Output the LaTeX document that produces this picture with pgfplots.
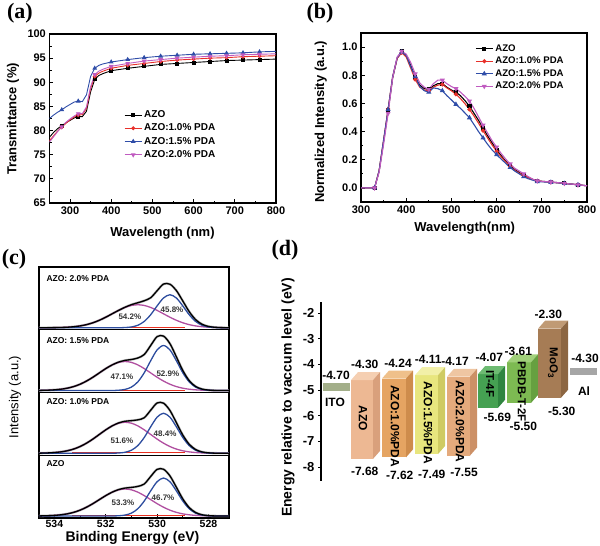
\documentclass[border=0pt]{standalone}
\usepackage{fontspec}
\setmainfont{Liberation Sans}
\newfontfamily\serifbf{Liberation Serif}
\usepackage{pgfplots}
\usepackage{pgfplotstable}
\pgfplotsset{compat=1.18}

\definecolor{cred}{HTML}{E8302A}
\definecolor{cblue}{HTML}{2F4DA8}
\definecolor{cmag}{HTML}{C05BC0}
\definecolor{xblue}{HTML}{2C4C9E}
\definecolor{xmag}{HTML}{B04FA0}
\definecolor{xred}{HTML}{E83020}
\definecolor{azoF}{HTML}{EDB893}\definecolor{azoT}{HTML}{F5CFB2}\definecolor{azoS}{HTML}{D9A07C}
\definecolor{aaF}{HTML}{E5A462}\definecolor{aaT}{HTML}{EFC08A}\definecolor{aaS}{HTML}{CE8C4C}
\definecolor{abF}{HTML}{E8E67E}\definecolor{abT}{HTML}{F2F0A8}\definecolor{abS}{HTML}{CFCB62}
\definecolor{acF}{HTML}{E4AA7C}\definecolor{acT}{HTML}{EFC6A2}\definecolor{acS}{HTML}{CC9066}
\definecolor{itF}{HTML}{45A152}\definecolor{itT}{HTML}{6DBB72}\definecolor{itS}{HTML}{2F8540}
\definecolor{pbF}{HTML}{7DBA52}\definecolor{pbT}{HTML}{A0D07A}\definecolor{pbS}{HTML}{66A040}
\definecolor{moF}{HTML}{A67C55}\definecolor{moT}{HTML}{C09A74}\definecolor{moS}{HTML}{8C6642}
\definecolor{itoC}{HTML}{A3AF8A}
\definecolor{alC}{HTML}{A6A6A6}

% (a) transmittance
\pgfplotstableread{
x k r b m
250 78.6 77.9 82.5 77.6
260 79.6 78.9 83.2 78.7
270 80.4 79.9 83.8 79.8
280 81.0 80.7 84.3 80.8
290 81.6 81.5 84.9 81.7
300 82.1 82.2 85.4 82.4
310 82.6 82.8 85.9 83.0
320 82.9 83.2 86.1 83.5
330 82.9 83.3 86.0 83.5
340 84.0 84.6 87.4 84.9
350 88.0 88.7 91.2 89.1
360 90.6 91.2 92.9 91.6
370 91.4 91.9 93.5 92.3
380 91.8 92.3 93.8 92.7
390 92.1 92.6 94.0 93.0
400 92.4 92.9 94.2 93.3
440 92.9 93.5 94.7 93.9
480 93.3 93.9 95.1 94.4
520 93.7 94.3 95.4 94.7
560 93.9 94.6 95.6 95.0
600 94.1 94.8 95.8 95.2
640 94.3 95.0 95.9 95.4
680 94.5 95.1 96.0 95.5
720 94.6 95.3 96.1 95.7
760 94.7 95.4 96.3 95.8
800 94.8 95.5 96.4 95.9
}\tabA

% (b) PL
\pgfplotstableread{
x k r b m
300 0 0 0 0
310 0 0 0 0
320 0 0 0 0
330 0 0 0 0
340 0.12 0.12 0.12 0.11
350 0.33 0.34 0.34 0.31
360 0.55 0.56 0.557 0.53
370 0.78 0.79 0.79 0.78
380 0.92 0.92 0.925 0.93
390 0.97 0.96 0.965 0.97
400 0.94 0.93 0.94 0.95
410 0.87 0.85 0.86 0.89
420 0.785 0.77 0.79 0.81
430 0.73 0.715 0.72 0.745
440 0.705 0.695 0.69 0.715
450 0.70 0.69 0.68 0.70
460 0.725 0.715 0.71 0.74
470 0.74 0.73 0.705 0.765
480 0.74 0.735 0.69 0.765
490 0.715 0.71 0.655 0.74
500 0.695 0.69 0.625 0.72
510 0.68 0.665 0.593 0.705
520 0.655 0.635 0.565 0.68
530 0.62 0.598 0.532 0.65
540 0.58 0.557 0.498 0.617
550 0.53 0.51 0.45 0.565
560 0.48 0.46 0.40 0.505
570 0.425 0.407 0.355 0.445
580 0.37 0.355 0.31 0.39
590 0.32 0.305 0.27 0.335
600 0.27 0.26 0.236 0.29
610 0.23 0.22 0.205 0.245
620 0.19 0.185 0.175 0.205
630 0.16 0.152 0.145 0.17
640 0.13 0.125 0.12 0.14
650 0.11 0.105 0.10 0.12
660 0.09 0.088 0.08 0.10
670 0.075 0.072 0.065 0.08
680 0.06 0.06 0.055 0.062
690 0.05 0.05 0.045 0.05
700 0.047 0.046 0.043 0.047
720 0.042 0.04 0.04 0.042
750 0.033 0.032 0.032 0.033
780 0.022 0.022 0.022 0.022
800 0.015 0.015 0.015 0.015
}\tabB

% (c) XPS, one table per sample: x, blue fit, magenta fit, measured envelope
\pgfplotstableread{
x b m t
527.20 0 0 0
527.50 0 0.02 0.02
527.75 0 0.06 0.06
528.00 0.24 0.14 0.38
528.25 0.92 0.30 1.22
528.50 2.87 0.62 3.49
528.75 7.28 1.19 8.47
529.00 15.00 2.15 17.15
529.25 25.14 3.65 28.79
529.50 34.27 5.84 40.11
529.75 38.00 8.77 46.77
530.00 34.27 12.36 46.63
530.25 25.14 16.38 39.50
530.50 15.00 20.38 32.00
530.75 7.28 23.83 29.60
531.00 2.87 26.17 28.60
531.25 0.92 27.00 27.92
531.50 0.24 26.17 26.41
531.75 0 23.83 23.83
532.00 0 20.38 20.38
532.25 0 16.38 16.38
532.50 0 12.36 12.36
532.75 0 8.77 8.77
533.00 0 5.84 5.84
533.25 0 3.65 3.65
533.50 0 2.15 2.15
533.75 0 1.19 1.19
534.00 0 0.62 0.62
534.25 0 0.30 0.30
534.50 0 0.14 0.14
534.60 0 0 0
}\tcA
\pgfplotstableread{
x b m t
527.20 0 0 0
527.50 0 0.03 0.03
527.75 0 0.07 0.07
528.00 0.25 0.16 0.41
528.25 0.97 0.34 1.31
528.50 3.02 0.71 3.73
528.75 7.66 1.36 9.02
529.00 15.79 2.47 18.26
529.25 26.46 4.19 30.65
529.50 36.08 6.71 42.79
529.75 40.00 10.07 50.07
530.00 36.08 14.19 50.27
530.25 26.46 18.80 43.00
530.50 15.79 23.40 35.50
530.75 7.66 27.36 33.40
531.00 3.02 30.05 32.60
531.25 0.97 31.00 31.97
531.50 0.25 30.05 30.30
531.75 0 27.36 27.36
532.00 0 23.40 23.40
532.25 0 18.80 18.80
532.50 0 14.19 14.19
532.75 0 10.07 10.07
533.00 0 6.71 6.71
533.25 0 4.19 4.19
533.50 0 2.47 2.47
533.75 0 1.36 1.36
534.00 0 0.71 0.71
534.25 0 0.34 0.34
534.50 0 0.16 0.16
534.60 0 0 0
}\tcB
\pgfplotstableread{
x b m t
527.20 0 0 0
527.50 0 0.03 0.03
527.75 0 0.06 0.06
528.00 0.28 0.15 0.43
528.25 1.09 0.32 1.41
528.50 3.40 0.66 4.06
528.75 8.62 1.27 9.89
529.00 17.76 2.31 20.07
529.25 29.77 3.92 33.69
529.50 40.59 6.27 46.86
529.75 45.00 9.42 54.42
530.00 40.59 13.28 53.87
530.25 29.77 17.59 45.00
530.50 17.76 21.89 36.00
530.75 8.62 25.59 32.50
531.00 3.40 28.11 31.00
531.25 1.09 29.00 30.09
531.50 0.28 28.11 28.39
531.75 0 25.59 25.59
532.00 0 21.89 21.89
532.25 0 17.59 17.59
532.50 0 13.28 13.28
532.75 0 9.42 9.42
533.00 0 6.27 6.27
533.25 0 3.92 3.92
533.50 0 2.31 2.31
533.75 0 1.27 1.27
534.00 0 0.66 0.66
534.25 0 0.32 0.32
534.50 0 0.15 0.15
534.60 0 0 0
}\tcC
\pgfplotstableread{
x b m t
527.20 0 0 0
527.50 0 0.12 0.12
527.75 0.21 0.26 0.47
528.00 0.80 0.52 1.32
528.25 2.49 1.01 3.50
528.50 6.32 1.83 8.15
528.75 13.03 3.11 16.14
529.00 21.83 4.97 26.80
529.25 29.76 7.47 37.23
529.50 33.00 10.53 43.53
529.75 29.76 13.95 43.71
530.00 21.83 17.36 37.00
530.25 13.03 20.30 30.00
530.50 6.32 22.29 27.00
530.75 2.49 23.00 25.00
531.00 0.80 22.29 23.09
531.25 0.21 20.30 20.51
531.50 0 17.36 17.36
531.75 0 13.95 13.95
532.00 0 10.53 10.53
532.25 0 7.47 7.47
532.50 0 4.97 4.97
532.75 0 3.11 3.11
533.00 0 1.83 1.83
533.25 0 1.01 1.01
533.50 0 0.52 0.52
533.75 0 0.26 0.26
534.00 0 0.12 0.12
534.25 0 0.05 0.05
534.50 0 0.02 0.02
534.60 0 0 0
}\tcD

\pgfplotsset{
  myax/.style={scale only axis, anchor=south west,
    /pgf/number format/assume math mode=true,
    axis line style={line width=1.1pt},
    tick style={line width=0.8pt, black},
    tick align=inside, tick pos=left,
    major tick length=4pt, minor tick length=2.2pt,
    ticklabel style={font=\fontsize{11}{13}\selectfont\bfseries},
    label style={font=\fontsize{13}{15}\selectfont\bfseries},
  },
  csub/.style={myax, width=190pt, height=62.75pt,
    xmin=527.2, xmax=534.6, x dir=reverse, ymin=-2, ymax=60.75,
    ytick=\empty, axis line style={line width=1.3pt}},
}
\tikzset{
  pct/.style={font=\fontsize{8}{9}\selectfont\bfseries, text=black!80},
  ttl/.style={font=\fontsize{8.5}{10}\selectfont\bfseries, anchor=west},
  elab/.style={font=\fontsize{12}{14}\selectfont\bfseries},
  blab/.style={font=\fontsize{12}{14}\selectfont\bfseries, rotate=-90},
}

\begin{document}
\begin{tikzpicture}[x=1pt,y=1pt]
\useasboundingbox (0,0) rectangle (600,546);

% ---------------- (a) ----------------
\begin{axis}[myax, at={(49.4pt,343pt)}, width=226.6pt, height=169pt,
  xmin=250, xmax=800, ymin=65, ymax=100,
  xtick={300,400,...,800}, ytick={65,70,...,100},
  minor x tick num=1, minor y tick num=1,
  xlabel={Wavelength (nm)}, ylabel={Transmittance (\%)},
  xlabel style={at={(axis description cs:0.499,-0.1775)}, anchor=center},
  ylabel style={at={(axis description cs:-0.161,0.497)}, anchor=center},
  legend style={at={(axis description cs:0.325,0.565)}, anchor=north west,
    draw=none, fill=none, font=\fontsize{10}{12}\selectfont\bfseries,
    row sep=0.8pt, inner sep=1pt},
  legend cell align=left,
  legend image post style={mark indices={2}},
  every axis plot/.append style={line width=0.9pt, mark size=1.5pt,
    mark indices={4,8,12,16,17,18,19,20,21,22,23,24,25}},
]
\addplot[black, mark=square*] table[x=x,y=k] {\tabA};
\addplot[cred, mark=*] table[x=x,y=r] {\tabA};
\addplot[cblue, mark=triangle*, mark size=1.9pt] table[x=x,y=b] {\tabA};
\addplot[cmag, mark=triangle*, mark size=1.9pt, mark options={rotate=180}] table[x=x,y=m] {\tabA};
\legend{AZO, AZO:1.0\% PDA, AZO:1.5\% PDA, AZO:2.0\% PDA}
\end{axis}

% ---------------- (b) ----------------
\begin{axis}[myax, at={(361pt,344pt)}, width=226pt, height=169pt,
  xmin=300, xmax=800, ymin=-0.1, ymax=1.1,
  xtick={300,400,...,800}, ytick={0,0.2,...,1.0},
  yticklabel style={/pgf/number format/.cd, fixed, fixed zerofill, precision=1},
  minor x tick num=1, minor y tick num=1,
  xlabel={Wavelength(nm)}, ylabel={Normalized Intensity (a.u.)},
  xlabel style={at={(axis description cs:0.459,-0.152)}, anchor=center},
  ylabel style={at={(axis description cs:-0.178,0.475)}, anchor=center},
  legend style={at={(axis description cs:0.5,0.95)}, anchor=north west,
    draw=none, fill=none, font=\fontsize{9.6}{11.5}\selectfont\bfseries,
    row sep=0.3pt, inner sep=1pt},
  legend cell align=left,
  legend image post style={mark indices={2}},
  every axis plot/.append style={line width=1.1pt, mark size=1.5pt,
    mark indices={4,7,10,13,16,19,22,25,28,31,34,37,40,42,43,44}},
]
\addplot[black, mark=square*] table[x=x,y=k] {\tabB};
\addplot[cred, mark=*] table[x=x,y=r] {\tabB};
\addplot[cblue, mark=triangle*, mark size=1.9pt] table[x=x,y=b] {\tabB};
\addplot[cmag, mark=triangle*, mark size=1.9pt, mark options={rotate=180}] table[x=x,y=m] {\tabB};
\legend{AZO, AZO:1.0\% PDA, AZO:1.5\% PDA, AZO:2.0\% PDA}
\end{axis}

% ---------------- (c) ----------------
% AZO (bottom)
\begin{axis}[csub, at={(39pt,28pt)},
  xtick={528,530,532,534}, minor x tick num=1,
  xticklabel style={font=\fontsize{10.5}{12}\selectfont\bfseries, yshift=1.5pt},
  xlabel={Binding Energy (eV)},
  xlabel style={at={(axis description cs:0.492,-0.315)}, anchor=center,
    font=\fontsize{14}{16}\selectfont\bfseries},
  every axis plot/.append style={smooth, line width=1.3pt},
]
\addplot[gray!55, line width=2.4pt] table[x=x,y=t] {\tcA};
\addplot[xred, sharp plot, line width=1pt] coordinates {(533.3,0.3) (528.9,0.3)};
\addplot[xmag] table[x=x,y=m] {\tcA};
\addplot[xblue] table[x=x,y=b] {\tcA};
\addplot[black] table[x=x,y=t] {\tcA};
\node[ttl] at (axis description cs:0.021,0.86) {AZO};
\node[pct] at (axis cs:531.33,13) {53.3\%};
\node[pct] at (axis cs:529.77,18) {46.7\%};
\end{axis}
% 1.0%
\begin{axis}[csub, at={(39pt,90.75pt)}, xtick=\empty,
  every axis plot/.append style={smooth, line width=1.3pt}]
\addplot[gray!55, line width=2.4pt] table[x=x,y=t] {\tcB};
\addplot[xred, sharp plot, line width=1pt] coordinates {(533.3,0.3) (528.9,0.3)};
\addplot[xmag] table[x=x,y=m] {\tcB};
\addplot[xblue] table[x=x,y=b] {\tcB};
\addplot[black] table[x=x,y=t] {\tcB};
\node[ttl] at (axis description cs:0.021,0.85) {AZO: 1.0\% PDA};
\node[pct] at (axis cs:531.37,12.25) {51.6\%};
\node[pct] at (axis cs:529.69,19.25) {48.4\%};
\end{axis}
% 1.5%
\begin{axis}[csub, at={(39pt,153.5pt)}, xtick=\empty,
  every axis plot/.append style={smooth, line width=1.3pt}]
\addplot[gray!55, line width=2.4pt] table[x=x,y=t] {\tcC};
\addplot[xred, sharp plot, line width=1pt] coordinates {(533.3,0.3) (528.9,0.3)};
\addplot[xmag] table[x=x,y=m] {\tcC};
\addplot[xblue] table[x=x,y=b] {\tcC};
\addplot[black] table[x=x,y=t] {\tcC};
\node[ttl] at (axis description cs:0.021,0.82) {AZO: 1.5\% PDA};
\node[pct] at (axis cs:531.37,13.5) {47.1\%};
\node[pct] at (axis cs:529.58,16.5) {52.9\%};
\end{axis}
% 2.0%
\begin{axis}[csub, at={(39pt,216.25pt)}, xtick=\empty,
  every axis plot/.append style={smooth, line width=1.3pt}]
\addplot[gray!55, line width=2.4pt] table[x=x,y=t] {\tcD};
\addplot[xred, sharp plot, line width=1pt] coordinates {(533.3,0.3) (528.9,0.3)};
\addplot[xmag] table[x=x,y=m] {\tcD};
\addplot[xblue] table[x=x,y=b] {\tcD};
\addplot[black] table[x=x,y=t] {\tcD};
\node[ttl] at (axis description cs:0.021,0.81) {AZO: 2.0\% PDA};
\node[pct] at (axis cs:531.06,10.75) {54.2\%};
\node[pct] at (axis cs:529.42,17.75) {45.8\%};
\end{axis}
\node[rotate=90, font=\fontsize{13}{15}\selectfont] at (15,149) {Intensity (a.u.)};

% ---------------- (d) ----------------
\begin{axis}[scale only axis, anchor=south west, at={(321pt,65pt)},
  width=279pt, height=179pt, xmin=321, xmax=600, ymin=-8.54, ymax=-1.57,
  /pgf/number format/assume math mode=true,
  axis x line=none, axis y line*=left,
  axis line style={line width=1.6pt, -},
  ytick={-8,-7,-6,-5,-4,-3,-2}, tick align=outside,
  tick style={line width=1pt, black}, major tick length=3pt,
  yticklabel style={font=\fontsize{13}{15}\selectfont\bfseries},
  clip=false,
]
% ITO and Al electrodes
\addplot[fill=itoC, draw=none] coordinates {(323,-5.03) (350,-5.03) (350,-4.73) (323,-4.73)} --cycle;
\addplot[fill=alC, draw=none] coordinates {(570,-4.42) (597,-4.42) (597,-4.14) (570,-4.14)} --cycle;
% AZO
\addplot[fill=azoF, draw=none] coordinates {(351,-7.68) (373,-7.68) (373,-4.61) (351,-4.61)} --cycle;
\addplot[fill=azoT, draw=none] coordinates {(351,-4.61) (373,-4.61) (380,-4.30) (358,-4.30)} --cycle;
\addplot[fill=azoS, draw=none] coordinates {(373,-4.61) (380,-4.30) (380,-7.37) (373,-7.68)} --cycle;
% AZO:1.0%PDA
\addplot[fill=aaF, draw=none] coordinates {(382,-7.62) (406,-7.62) (406,-4.55) (382,-4.55)} --cycle;
\addplot[fill=aaT, draw=none] coordinates {(382,-4.55) (406,-4.55) (413,-4.24) (389,-4.24)} --cycle;
\addplot[fill=aaS, draw=none] coordinates {(406,-4.55) (413,-4.24) (413,-7.31) (406,-7.62)} --cycle;
% AZO:1.5%PDA
\addplot[fill=abF, draw=none] coordinates {(415,-7.49) (438,-7.49) (438,-4.42) (415,-4.42)} --cycle;
\addplot[fill=abT, draw=none] coordinates {(415,-4.42) (438,-4.42) (445,-4.11) (422,-4.11)} --cycle;
\addplot[fill=abS, draw=none] coordinates {(438,-4.42) (445,-4.11) (445,-7.18) (438,-7.49)} --cycle;
% AZO:2.0%PDA
\addplot[fill=acF, draw=none] coordinates {(447,-7.55) (470,-7.55) (470,-4.48) (447,-4.48)} --cycle;
\addplot[fill=acT, draw=none] coordinates {(447,-4.48) (470,-4.48) (477,-4.17) (454,-4.17)} --cycle;
\addplot[fill=acS, draw=none] coordinates {(470,-4.48) (477,-4.17) (477,-7.24) (470,-7.55)} --cycle;
% IT-4F
\addplot[fill=itF, draw=none] coordinates {(478,-5.69) (498,-5.69) (498,-4.38) (478,-4.38)} --cycle;
\addplot[fill=itT, draw=none] coordinates {(478,-4.38) (498,-4.38) (505,-4.07) (485,-4.07)} --cycle;
\addplot[fill=itS, draw=none] coordinates {(498,-4.38) (505,-4.07) (505,-5.38) (498,-5.69)} --cycle;
% PBDB-T-2F
\addplot[fill=pbF, draw=none] coordinates {(507,-5.50) (531,-5.50) (531,-3.92) (507,-3.92)} --cycle;
\addplot[fill=pbT, draw=none] coordinates {(507,-3.92) (531,-3.92) (538,-3.61) (514,-3.61)} --cycle;
\addplot[fill=pbS, draw=none] coordinates {(531,-3.92) (538,-3.61) (538,-5.19) (531,-5.50)} --cycle;
% MoO3
\addplot[fill=moF, draw=none] coordinates {(538,-5.30) (561,-5.30) (561,-2.61) (538,-2.61)} --cycle;
\addplot[fill=moT, draw=none] coordinates {(538,-2.61) (561,-2.61) (568,-2.30) (545,-2.30)} --cycle;
\addplot[fill=moS, draw=none] coordinates {(561,-2.61) (568,-2.30) (568,-4.99) (561,-5.30)} --cycle;
% labels
\node[elab] at (axis cs:336,-4.42) {-4.70};
\node[elab] at (axis cs:335,-5.46) {ITO};
\node[elab] at (axis cs:364.7,-3.99) {-4.30};
\node[elab] at (axis cs:398,-3.96) {-4.24};
\node[elab] at (axis cs:428.3,-3.80) {-4.11};
\node[elab] at (axis cs:455,-3.90) {-4.17};
\node[elab] at (axis cs:489.3,-3.73) {-4.07};
\node[elab] at (axis cs:518.3,-3.51) {-3.61};
\node[elab] at (axis cs:548.3,-2.04) {-2.30};
\node[elab] at (axis cs:585,-3.77) {-4.30};
\node[elab] at (axis cs:584,-5.03) {Al};
\node[elab] at (axis cs:561.7,-5.84) {-5.30};
\node[elab] at (axis cs:523.3,-6.43) {-5.50};
\node[elab] at (axis cs:497.3,-6.06) {-5.69};
\node[elab] at (axis cs:364.7,-8.15) {-7.68};
\node[elab] at (axis cs:399.7,-8.31) {-7.62};
\node[elab] at (axis cs:431.7,-8.28) {-7.49};
\node[elab] at (axis cs:464,-8.21) {-7.55};
\node[blab] at (axis cs:363,-6.09) {AZO};
\node[blab] at (axis cs:395,-6.40) {AZO:1.0\%PDA};
\node[blab] at (axis cs:428,-6.27) {AZO:1.5\%PDA};
\node[blab] at (axis cs:460,-6.22) {AZO:2.0\%PDA};
\node[blab, font=\fontsize{11.5}{14}\selectfont\bfseries] at (axis cs:490,-4.75) {IT-4F};
\node[blab, font=\fontsize{11.5}{14}\selectfont\bfseries] at (axis cs:522,-5.07) {PBDB-T-2F};
\node[blab, font=\fontsize{11.5}{14}\selectfont\bfseries] at (axis cs:553,-3.95) {MoO\textsubscript{3}};
\end{axis}
\node[rotate=90, font=\fontsize{14}{16}\selectfont\bfseries] at (288,148.5) {Energy relative to vaccum level (eV)};

% panel letters
\node[font=\fontsize{22}{24}\selectfont\serifbf\bfseries] at (20,533) {(a)};
\node[font=\fontsize{22}{24}\selectfont\serifbf\bfseries] at (320,533) {(b)};
\node[font=\fontsize{22}{24}\selectfont\serifbf\bfseries] at (14,287) {(c)};
\node[font=\fontsize{22}{24}\selectfont\serifbf\bfseries] at (285,296) {(d)};
\end{tikzpicture}
\end{document}
